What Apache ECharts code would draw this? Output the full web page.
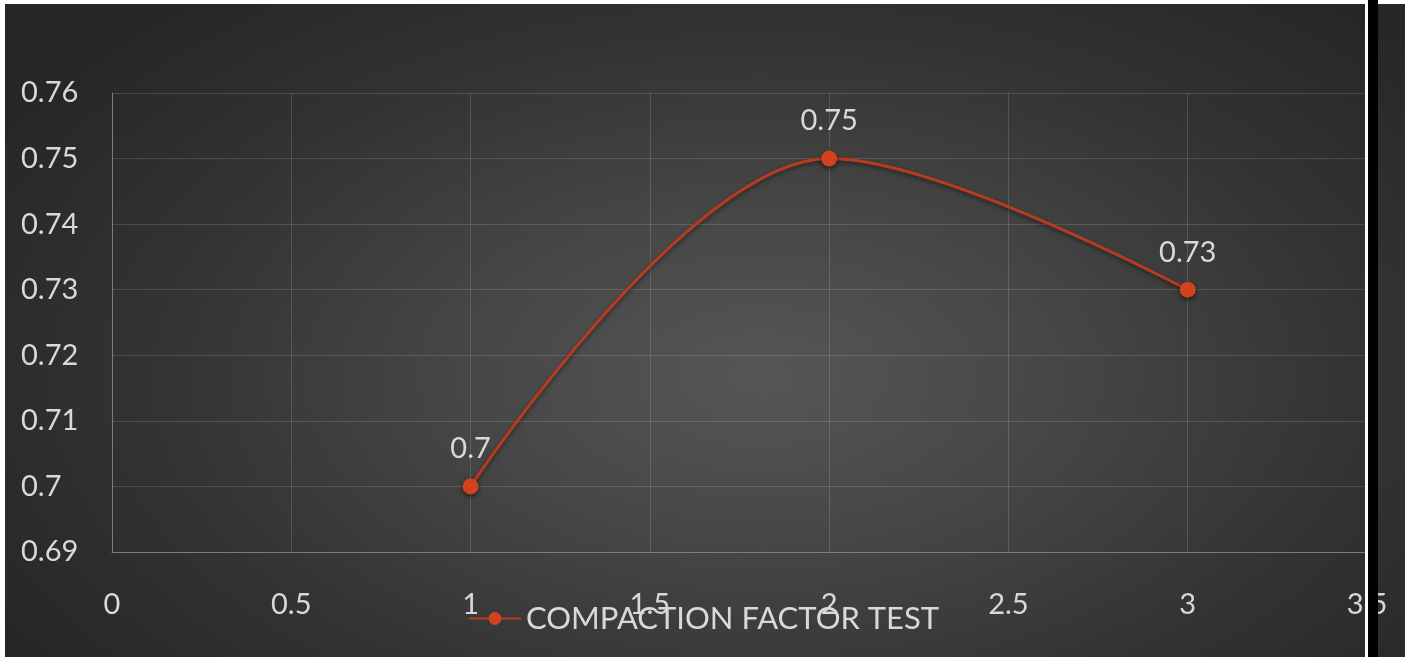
<!DOCTYPE html>
<html>
<head>
<meta charset="utf-8">
<script src="https://cdn.jsdelivr.net/npm/echarts@6/dist/echarts.min.js"></script>
<style>
  html, body { margin: 0; padding: 0; background: #ffffff; }
  body { width: 1408px; height: 657px; position: relative; overflow: hidden; }
  #chart { position: absolute; left: 5px; top: 4px; width: 1400px; height: 653px;
    background: radial-gradient(ellipse 62% 75% at 54% 57%, #565656 0%, #464646 35%, #333333 70%, #272727 100%); }
  #edge { position: absolute; left: 1365px; top: 0; width: 3px; height: 657px; background: #ffffff; }
  #bar { position: absolute; left: 1368px; top: 0; width: 10px; height: 657px; background: #000000; }
</style>
</head>
<body>
<div id="chart"></div>
<div id="edge"></div>
<div id="bar"></div>
<script>
const seriesName = 'COMPACTION FACTOR TEST';
const xValues = [1, 2, 3];
const compaction = [0.70, 0.75, 0.73];
const xTicks = { min: 0, max: 3.5, interval: 0.5 };
const yTicks = { min: 0.69, max: 0.76, interval: 0.01 };

const points = xValues.map((x, i) => [x, compaction[i]]);
const fmt = v => String(parseFloat(Number(v).toFixed(2)));
const textColor = '#d9d9d9';
const font = 'Lato, "Open Sans", sans-serif';

const chart = echarts.init(document.getElementById('chart'), null, { renderer: 'canvas' });
chart.setOption({
  backgroundColor: 'transparent',
  animation: false,
  grid: { left: 107, top: 89, width: 1255, height: 459, containLabel: false },
  legend: {
    data: [seriesName],
    left: 463, top: 599, padding: 0,
    itemWidth: 52, itemHeight: 16, itemGap: 10,
    textStyle: { color: textColor, fontSize: 31, fontFamily: font }
  },
  xAxis: {
    type: 'value', min: xTicks.min, max: xTicks.max, interval: xTicks.interval,
    axisLine: { show: true, lineStyle: { color: '#7c7c7c', width: 1 } },
    axisTick: { show: false },
    splitLine: { show: true, lineStyle: { color: 'rgba(255,255,255,0.14)', width: 1 } },
    axisLabel: { color: textColor, fontSize: 29, fontFamily: font, margin: 38, formatter: fmt, showMaxLabel: true, showMinLabel: true }
  },
  yAxis: {
    type: 'value', min: yTicks.min, max: yTicks.max, interval: yTicks.interval,
    axisLine: { show: true, lineStyle: { color: '#7c7c7c', width: 1 } },
    axisTick: { show: false },
    splitLine: { show: true, lineStyle: { color: 'rgba(255,255,255,0.14)', width: 1 } },
    axisLabel: { color: textColor, fontSize: 29, fontFamily: font, margin: 91, align: 'left', formatter: fmt }
  },
  series: [{
    name: seriesName,
    type: 'line',
    data: points,
    smooth: 0.35,
    symbol: 'circle',
    symbolSize: 16,
    lineStyle: { color: '#b73b1e', width: 3, shadowColor: 'rgba(0,0,0,0.5)', shadowBlur: 4, shadowOffsetY: 2 },
    itemStyle: { color: '#d2421d', shadowColor: 'rgba(0,0,0,0.6)', shadowBlur: 5, shadowOffsetY: 2 },
    label: {
      show: true, position: 'top', distance: 15,
      color: textColor, fontSize: 29, fontFamily: font,
      formatter: p => fmt(p.value[1])
    }
  }]
});
</script>
</body>
</html>
